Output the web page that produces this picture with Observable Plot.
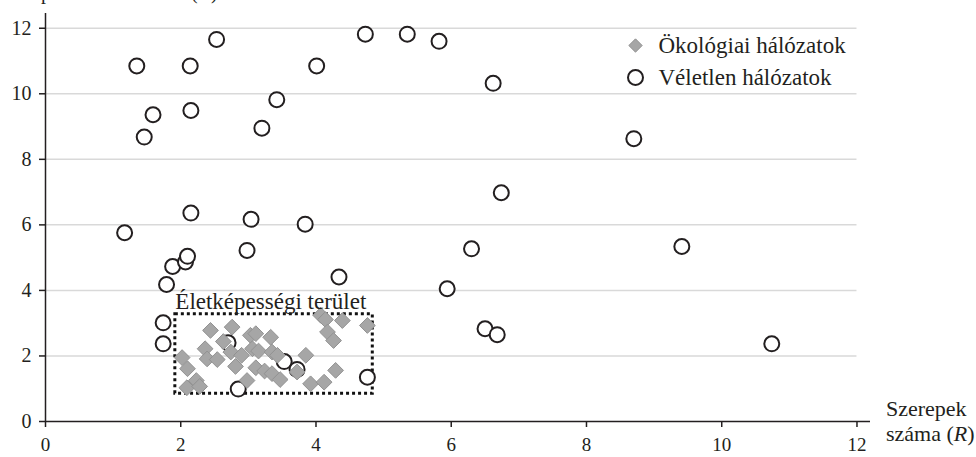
<!DOCTYPE html>
<html>
<head>
<meta charset="utf-8">
<script src="https://cdn.jsdelivr.net/npm/d3@7"></script>
<script src="https://cdn.jsdelivr.net/npm/@observablehq/plot@0.6"></script>
<style>
  html, body { margin: 0; padding: 0; background: #fff; }
  #chart svg { display: block; }
</style>
</head>
<body>
<div id="chart"></div>
<script>
// Ökológiai hálózatok (diamonds)
const ecoX = [2.02, 2.10, 2.09, 2.23, 2.28, 2.44, 2.36, 2.39, 2.54, 2.76, 2.63, 2.74, 2.90, 2.81, 2.98, 3.03, 3.11, 3.06, 3.15, 3.11, 3.24, 3.33, 3.35, 3.43, 3.35, 3.47, 3.72, 3.85, 3.92, 4.12, 4.29, 4.07, 4.14, 4.39, 4.17, 4.26, 4.76];
const ecoY = [1.95, 1.61, 1.03, 1.25, 1.07, 2.78, 2.22, 1.91, 1.89, 2.88, 2.44, 2.12, 2.02, 1.68, 1.25, 2.63, 2.68, 2.22, 2.15, 1.64, 1.54, 2.57, 2.12, 2.02, 1.46, 1.28, 1.51, 2.02, 1.15, 1.20, 1.56, 3.24, 3.11, 3.08, 2.73, 2.47, 2.93];
// Véletlen hálózatok (circles)
const randX = [1.35, 1.59, 1.46, 2.14, 2.15, 2.53, 3.20, 3.42, 4.01, 4.73, 5.35, 5.82, 6.62, 8.70, 3.84, 6.74, 6.30, 9.41, 4.34, 5.94, 6.50, 6.68, 10.74, 1.17, 2.15, 3.04, 2.98, 1.88, 2.07, 2.10, 1.79, 1.74, 1.74, 2.70, 2.85, 3.53, 3.72, 4.76];
const randY = [10.85, 9.36, 8.68, 10.85, 9.49, 11.66, 8.95, 9.82, 10.85, 11.82, 11.82, 11.60, 10.32, 8.63, 6.02, 6.98, 5.27, 5.34, 4.41, 4.05, 2.83, 2.65, 2.37, 5.76, 6.36, 6.17, 5.22, 4.73, 4.87, 5.04, 4.18, 3.01, 2.37, 2.40, 0.99, 1.83, 1.59, 1.35];

const xTicks = [0, 2, 4, 6, 8, 10, 12];
const yTicks = [0, 2, 4, 6, 8, 10, 12];
const gridTicks = [2, 4, 6, 8, 10, 12];

// Életképességi terület (viability region)
const regionX = [1.92, 4.84];
const regionY = [0.85, 3.27];
const regionLabel = "Életképességi terület";

const legendLabels = ["Ökológiai hálózatok", "Véletlen hálózatok"];
const xLabelLines = ["Szerepek", "száma (", "R", ")"];
const yLabelParts = ["Kompartmentek száma (", "C", ")"];

const eco = ecoX.map((x, i) => ({x, y: ecoY[i]}));
const rand = randX.map((x, i) => ({x, y: randY[i]}));
const region = [{x1: regionX[0], x2: regionX[1], y1: regionY[0], y2: regionY[1]}];

const ink = "#231f20";
const font = "Liberation Serif";

const chart = Plot.plot({
  width: 976,
  height: 457,
  marginLeft: 45,
  marginRight: 106,
  marginTop: 13,
  marginBottom: 36,
  style: {fontFamily: font, fontSize: "20px", color: ink, background: "white"},
  x: {domain: [0, 12.2], axis: null},
  y: {domain: [0, 12.45], axis: null},
  marks: [
    Plot.ruleY(gridTicks, {x1: 0, x2: 12, stroke: "#d9d9d9", strokeWidth: 1.5}),
    Plot.rect(region, {x1: "x1", x2: "x2", y1: "y1", y2: "y2", fill: "none", stroke: "#111", strokeWidth: 3, strokeDasharray: "3,3"}),
    Plot.dot(rand, {x: "x", y: "y", r: 7.5, fill: "white", stroke: ink, strokeWidth: 2}),
    Plot.dot(eco, {x: "x", y: "y", symbol: "diamond2", r: 7.1, fill: "#a6a6a6", stroke: "#929292", strokeWidth: 1}),
    Plot.text([regionLabel], {x: regionX[0], y: regionY[1], text: d => d, textAnchor: "start", lineAnchor: "bottom", dy: -5, fontSize: 23, fill: ink}),
    // legend
    Plot.dot([legendLabels[0]], {frameAnchor: "top-left", dx: 590, dy: 32, symbol: "diamond2", r: 6, fill: "#a6a6a6", stroke: "#929292", strokeWidth: 1}),
    Plot.dot([legendLabels[1]], {frameAnchor: "top-left", dx: 590, dy: 64, r: 7.5, fill: "white", stroke: ink, strokeWidth: 2}),
    Plot.text([legendLabels[0]], {frameAnchor: "top-left", dx: 613, dy: 32, text: d => d, textAnchor: "start", lineAnchor: "middle", fontSize: 23, fill: ink}),
    Plot.text([legendLabels[1]], {frameAnchor: "top-left", dx: 613, dy: 64, text: d => d, textAnchor: "start", lineAnchor: "middle", fontSize: 23, fill: ink}),
    // axes
    Plot.axisY(yTicks, {tickSize: 6, tickPadding: 8, strokeWidth: 1.5, label: null, fontSize: 20}),
    Plot.axisX(xTicks, {tickSize: 6, tickPadding: 10, strokeWidth: 1.5, label: null, fontSize: 19}),
    Plot.ruleX([0], {stroke: ink, strokeWidth: 1.5}),
    Plot.ruleY([0], {stroke: ink, strokeWidth: 1.5})
  ]
});

document.getElementById("chart").appendChild(chart);

const svg = d3.select(chart);
svg.append("text")
  .attr("x", 886).attr("y", 416)
  .attr("text-anchor", "start")
  .attr("font-family", font).attr("font-size", 22).attr("fill", ink)
  .text(xLabelLines[0]);
const t2 = svg.append("text")
  .attr("x", 886).attr("y", 441)
  .attr("text-anchor", "start")
  .attr("font-family", font).attr("font-size", 22).attr("fill", ink);
t2.append("tspan").text(xLabelLines[1]);
t2.append("tspan").attr("font-style", "italic").text(xLabelLines[2]);
t2.append("tspan").text(xLabelLines[3]);

const ty = svg.append("text")
  .attr("x", 1).attr("y", -1)
  .attr("text-anchor", "start")
  .attr("font-family", font).attr("font-size", 20).attr("fill", ink);
ty.append("tspan").text(yLabelParts[0]);
ty.append("tspan").attr("font-style", "italic").text(yLabelParts[1]);
ty.append("tspan").text(yLabelParts[2]);
</script>
</body>
</html>
